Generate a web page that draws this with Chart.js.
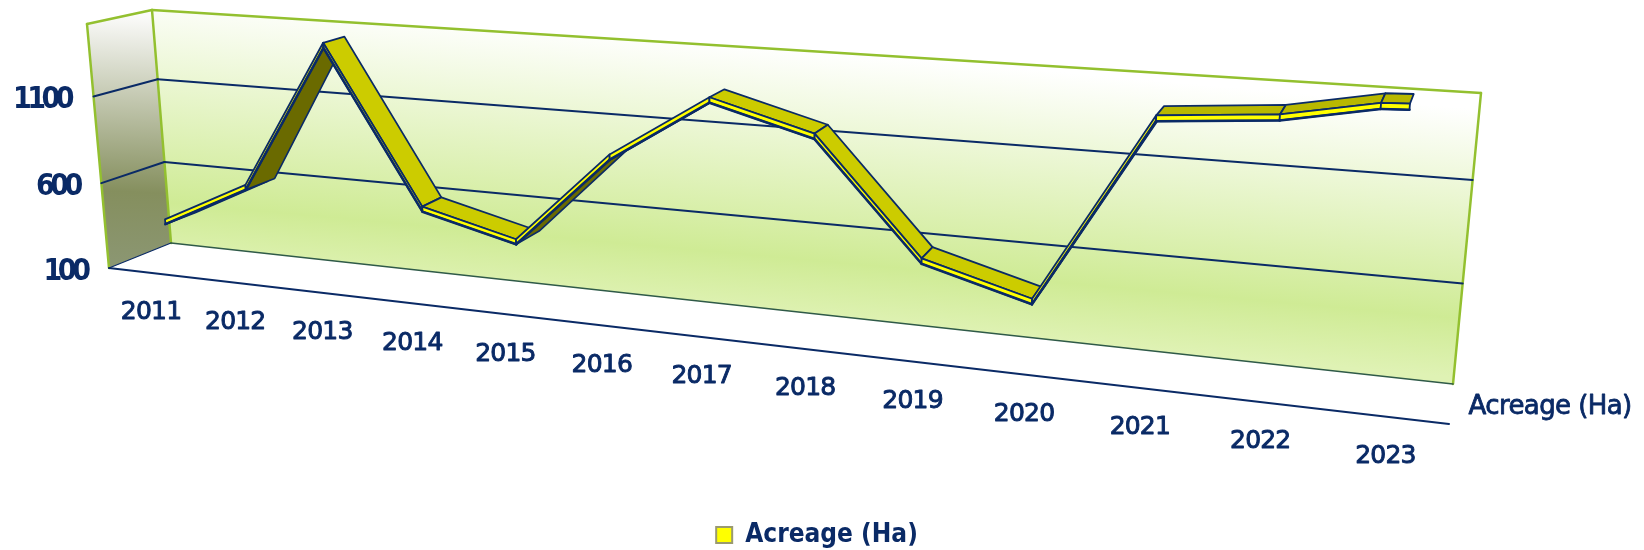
<!DOCTYPE html>
<html>
<head>
<meta charset="utf-8">
<title>Acreage (Ha)</title>
<script src="https://cdn.jsdelivr.net/npm/chart.js@4"></script>
<style>
  body { margin: 0; background: #fff; }
  canvas { display: block; }
</style>
</head>
<body>
<canvas id="acreageChart" width="1644" height="550"></canvas>
<script>
// --- data ---
const years = ['2011', '2012', '2013', '2014', '2015', '2016', '2017', '2018', '2019', '2020', '2021', '2022', '2023'];
const acreage = [343, 595, 1434, 569, 439, 949, 1290, 1145, 555, 405, 1360, 1405, 1495];
const yTicks = [100, 600, 1100];
const seriesName = 'Acreage (Ha)';
const yMin = 100;
const yMax = 1510;

// small bend the ribbon has just before its last point: [share of last segment, value]
const endBend = [0.78, 1490];

// --- 3D frame: where the unit square lands on screen for the front and back planes ---
const frontPlane = quadMap([109, 268], [1449, 424], [1474, 119], [87, 24]);
const backPlane = quadMap([171, 243], [1453, 384], [1481, 93], [152, 10]);
const ribbonFront = 0.31;
const ribbonBack = 0.69;
const ribbonThick = 0.02;

const NAVY = '#0a2a66';
const GREEN = '#93c02f';

// projective map of the unit square onto a quad (bottom-left, bottom-right, top-right, top-left)
function quadMap(p0, p1, p2, p3) {
    const sx = p0[0] - p1[0] + p2[0] - p3[0];
    const sy = p0[1] - p1[1] + p2[1] - p3[1];
    const dx1 = p1[0] - p2[0], dx2 = p3[0] - p2[0];
    const dy1 = p1[1] - p2[1], dy2 = p3[1] - p2[1];
    const den = dx1 * dy2 - dx2 * dy1;
    const g = (sx * dy2 - dx2 * sy) / den;
    const h = (dx1 * sy - sx * dy1) / den;
    const a = p1[0] - p0[0] + g * p1[0], b = p3[0] - p0[0] + h * p3[0];
    const d = p1[1] - p0[1] + g * p1[1], e = p3[1] - p0[1] + h * p3[1];
    return (u, v) => {
        const w = g * u + h * v + 1;
        return [(a * u + b * v + p0[0]) / w, (d * u + e * v + p0[1]) / w];
    };
}

function project(u, v, depth) {
    const f = frontPlane(u, v);
    const b = backPlane(u, v);
    return [f[0] + (b[0] - f[0]) * depth, f[1] + (b[1] - f[1]) * depth];
}

function poly(ctx, pts, fill, stroke, width) {
    ctx.beginPath();
    pts.forEach((p, i) => i ? ctx.lineTo(p[0], p[1]) : ctx.moveTo(p[0], p[1]));
    ctx.closePath();
    if (fill) { ctx.fillStyle = fill; ctx.fill(); }
    if (stroke) { ctx.strokeStyle = stroke; ctx.lineWidth = width; ctx.lineJoin = 'round'; ctx.stroke(); }
}

function segment(ctx, a, b) {
    ctx.beginPath();
    ctx.moveTo(a[0], a[1]);
    ctx.lineTo(b[0], b[1]);
    ctx.stroke();
}

function label(ctx, text, x, y, font, spacing, heavy) {
    ctx.font = font;
    ctx.letterSpacing = spacing || '0px';
    ctx.fillStyle = NAVY;
    ctx.textAlign = 'center';
    ctx.textBaseline = 'middle';
    ctx.fillText(text, x, y);
    if (heavy) {
        ctx.strokeStyle = NAVY;
        ctx.lineWidth = heavy;
        ctx.lineJoin = 'round';
        ctx.strokeText(text, x, y);
    }
    ctx.letterSpacing = '0px';
}

// --- walls, grid and tick labels go under the ribbon ---
function drawFrame(chart) {
    const ctx = chart.ctx;
    const yScale = chart.scales.y;
    const xScale = chart.scales.x;
    const area = chart.chartArea;
    const vOf = val => (area.bottom - yScale.getPixelForValue(val)) / (area.bottom - area.top);
    const uOf = px => (px - area.left) / (area.right - area.left);

    // side wall
    const wall = [project(0, 0, 0), project(0, 0, 1), project(0, 1, 1), project(0, 1, 0)];
    const wallGrad = ctx.createLinearGradient(120, 15, 112, 260);
    wallGrad.addColorStop(0, '#fbfbfa');
    wallGrad.addColorStop(0.72, '#858f5e');
    wallGrad.addColorStop(1, '#8b9671');
    poly(ctx, wall, wallGrad);

    // back wall
    const back = [project(0, 0, 1), project(1, 0, 1), project(1, 1, 1), project(0, 1, 1)];
    const backGrad = ctx.createLinearGradient(816, 50, 792, 318);
    backGrad.addColorStop(0, '#ffffff');
    backGrad.addColorStop(0.78, '#cfeb95');
    backGrad.addColorStop(1, '#dff2b4');
    poly(ctx, back, backGrad);

    // frame edges
    ctx.lineCap = 'round';
    ctx.strokeStyle = GREEN;
    ctx.lineWidth = 2.5;
    segment(ctx, project(0, 0, 0), project(0, 1, 0));
    segment(ctx, project(0, 1, 0), project(0, 1, 1));
    segment(ctx, project(0, 1, 1), project(1, 1, 1));
    segment(ctx, project(1, 1, 1), project(1, 0, 1));
    segment(ctx, project(0, 1, 1), project(0, 0, 1));

    // grid lines, wall and back
    ctx.strokeStyle = NAVY;
    ctx.lineWidth = 2;
    yTicks.filter(t => t > yMin).forEach(t => {
        const v = vOf(t);
        segment(ctx, project(0, v, 0), project(0, v, 1));
        segment(ctx, project(0, v, 1), project(1, v, 1));
    });

    // floor edges
    segment(ctx, project(0, 0, 0), project(1, 0, 0));
    ctx.lineWidth = 1.2;
    segment(ctx, project(0, 0, 0), project(0, 0, 1));
    ctx.lineWidth = 1.6;
    ctx.strokeStyle = '#2f5a48';
    segment(ctx, project(0, 0, 1), project(1, 0, 1));

    // y tick labels
    yTicks.forEach(t => {
        const p = project(0, vOf(t), 0);
        label(ctx, String(t), p[0] - 42 + (t < 1000 ? -2 : -10), p[1] + 4, 'bold 30px "DejaVu Sans Condensed", "DejaVu Sans"', '-4.5px');
    });

    // category labels below the front floor edge
    years.forEach((year, i) => {
        const p = project(uOf(xScale.getPixelForValue(i)), 0, 0);
        label(ctx, year, p[0] + 1, p[1] + 40, '25px "DejaVu Sans"', '-0.8px', 0.9);
    });

    label(ctx, seriesName, 1550, 407, '26px "DejaVu Sans"', '-0.6px', 0.8);
}

// --- the ribbon, built from the points Chart.js placed ---
function drawRibbon(chart) {
    const ctx = chart.ctx;
    const area = chart.chartArea;
    const points = chart.getDatasetMeta(0).data;
    const coords = points.map(pt => [(pt.x - area.left) / (area.right - area.left), (area.bottom - pt.y) / (area.bottom - area.top)]);

    // the bend before the end
    const n = coords.length;
    const bendU = coords[n - 2][0] + (coords[n - 1][0] - coords[n - 2][0]) * endBend[0];
    const bendV = (chart.chartArea.bottom - chart.scales.y.getPixelForValue(endBend[1])) / (area.bottom - area.top);
    coords.splice(n - 1, 0, [bendU, bendV]);

    const low = coords.map(c => project(c[0], c[1], ribbonFront));
    const top = coords.map(c => project(c[0], c[1] + ribbonThick, ribbonFront));
    const rear = coords.map(c => project(c[0], c[1] + ribbonThick, ribbonBack));
    const lowRear = coords.map(c => project(c[0], c[1], ribbonBack));
    const lowRearWide = coords.map(c => project(c[0], c[1], ribbonBack + 0.12));

    for (let i = 0; i < coords.length - 1; i++) {
        const dir = [top[i + 1][0] - top[i][0], top[i + 1][1] - top[i][1]];
        const dep = [rear[i][0] - top[i][0], rear[i][1] - top[i][1]];
        const cross = dir[0] * dep[1] - dir[1] * dep[0];
        const rising = coords[i + 1][1] > coords[i][1];
        if (cross > 0) {
            // seen from below: the dark underside sticks out behind the front strip
            poly(ctx, [low[i], low[i + 1], lowRear[i + 1], lowRearWide[i]], '#6a6a00', NAVY, 1.6);
        } else {
            poly(ctx, [top[i], top[i + 1], rear[i + 1], rear[i]], rising ? '#b8b800' : '#cccc00', NAVY, 1.8);
        }
        poly(ctx, [low[i], low[i + 1], top[i + 1], top[i]], '#ffff00', NAVY, 1.8);
        // the lower edge of the strip is heavier
        ctx.strokeStyle = NAVY;
        ctx.lineWidth = 2.6;
        segment(ctx, low[i], low[i + 1]);
    }
}

const framePlugin = {
    id: 'frame3d',
    beforeDatasetsDraw: drawFrame,
    afterDatasetsDraw: drawRibbon
};

new Chart(document.getElementById('acreageChart'), {
    type: 'line',
    data: {
        labels: years,
        datasets: [{
            label: seriesName,
            data: acreage,
            showLine: false,
            pointRadius: 0,
            backgroundColor: '#ffff00',
            borderColor: '#9a9a70',
            borderWidth: 2
        }]
    },
    options: {
        responsive: false,
        animation: false,
        layout: { padding: { right: 10, bottom: -8 } },
        scales: {
            x: { display: false, offset: true },
            y: { display: false, min: yMin, max: yMax }
        },
        plugins: {
            tooltip: { enabled: false },
            legend: {
                position: 'bottom',
                labels: {
                    color: NAVY,
                    boxWidth: 16,
                    boxHeight: 16,
                    padding: 6,
                    font: { family: '"DejaVu Sans Condensed", "DejaVu Sans"', size: 26, weight: 'bold' }
                }
            }
        }
    },
    plugins: [framePlugin]
});
</script>
</body>
</html>
